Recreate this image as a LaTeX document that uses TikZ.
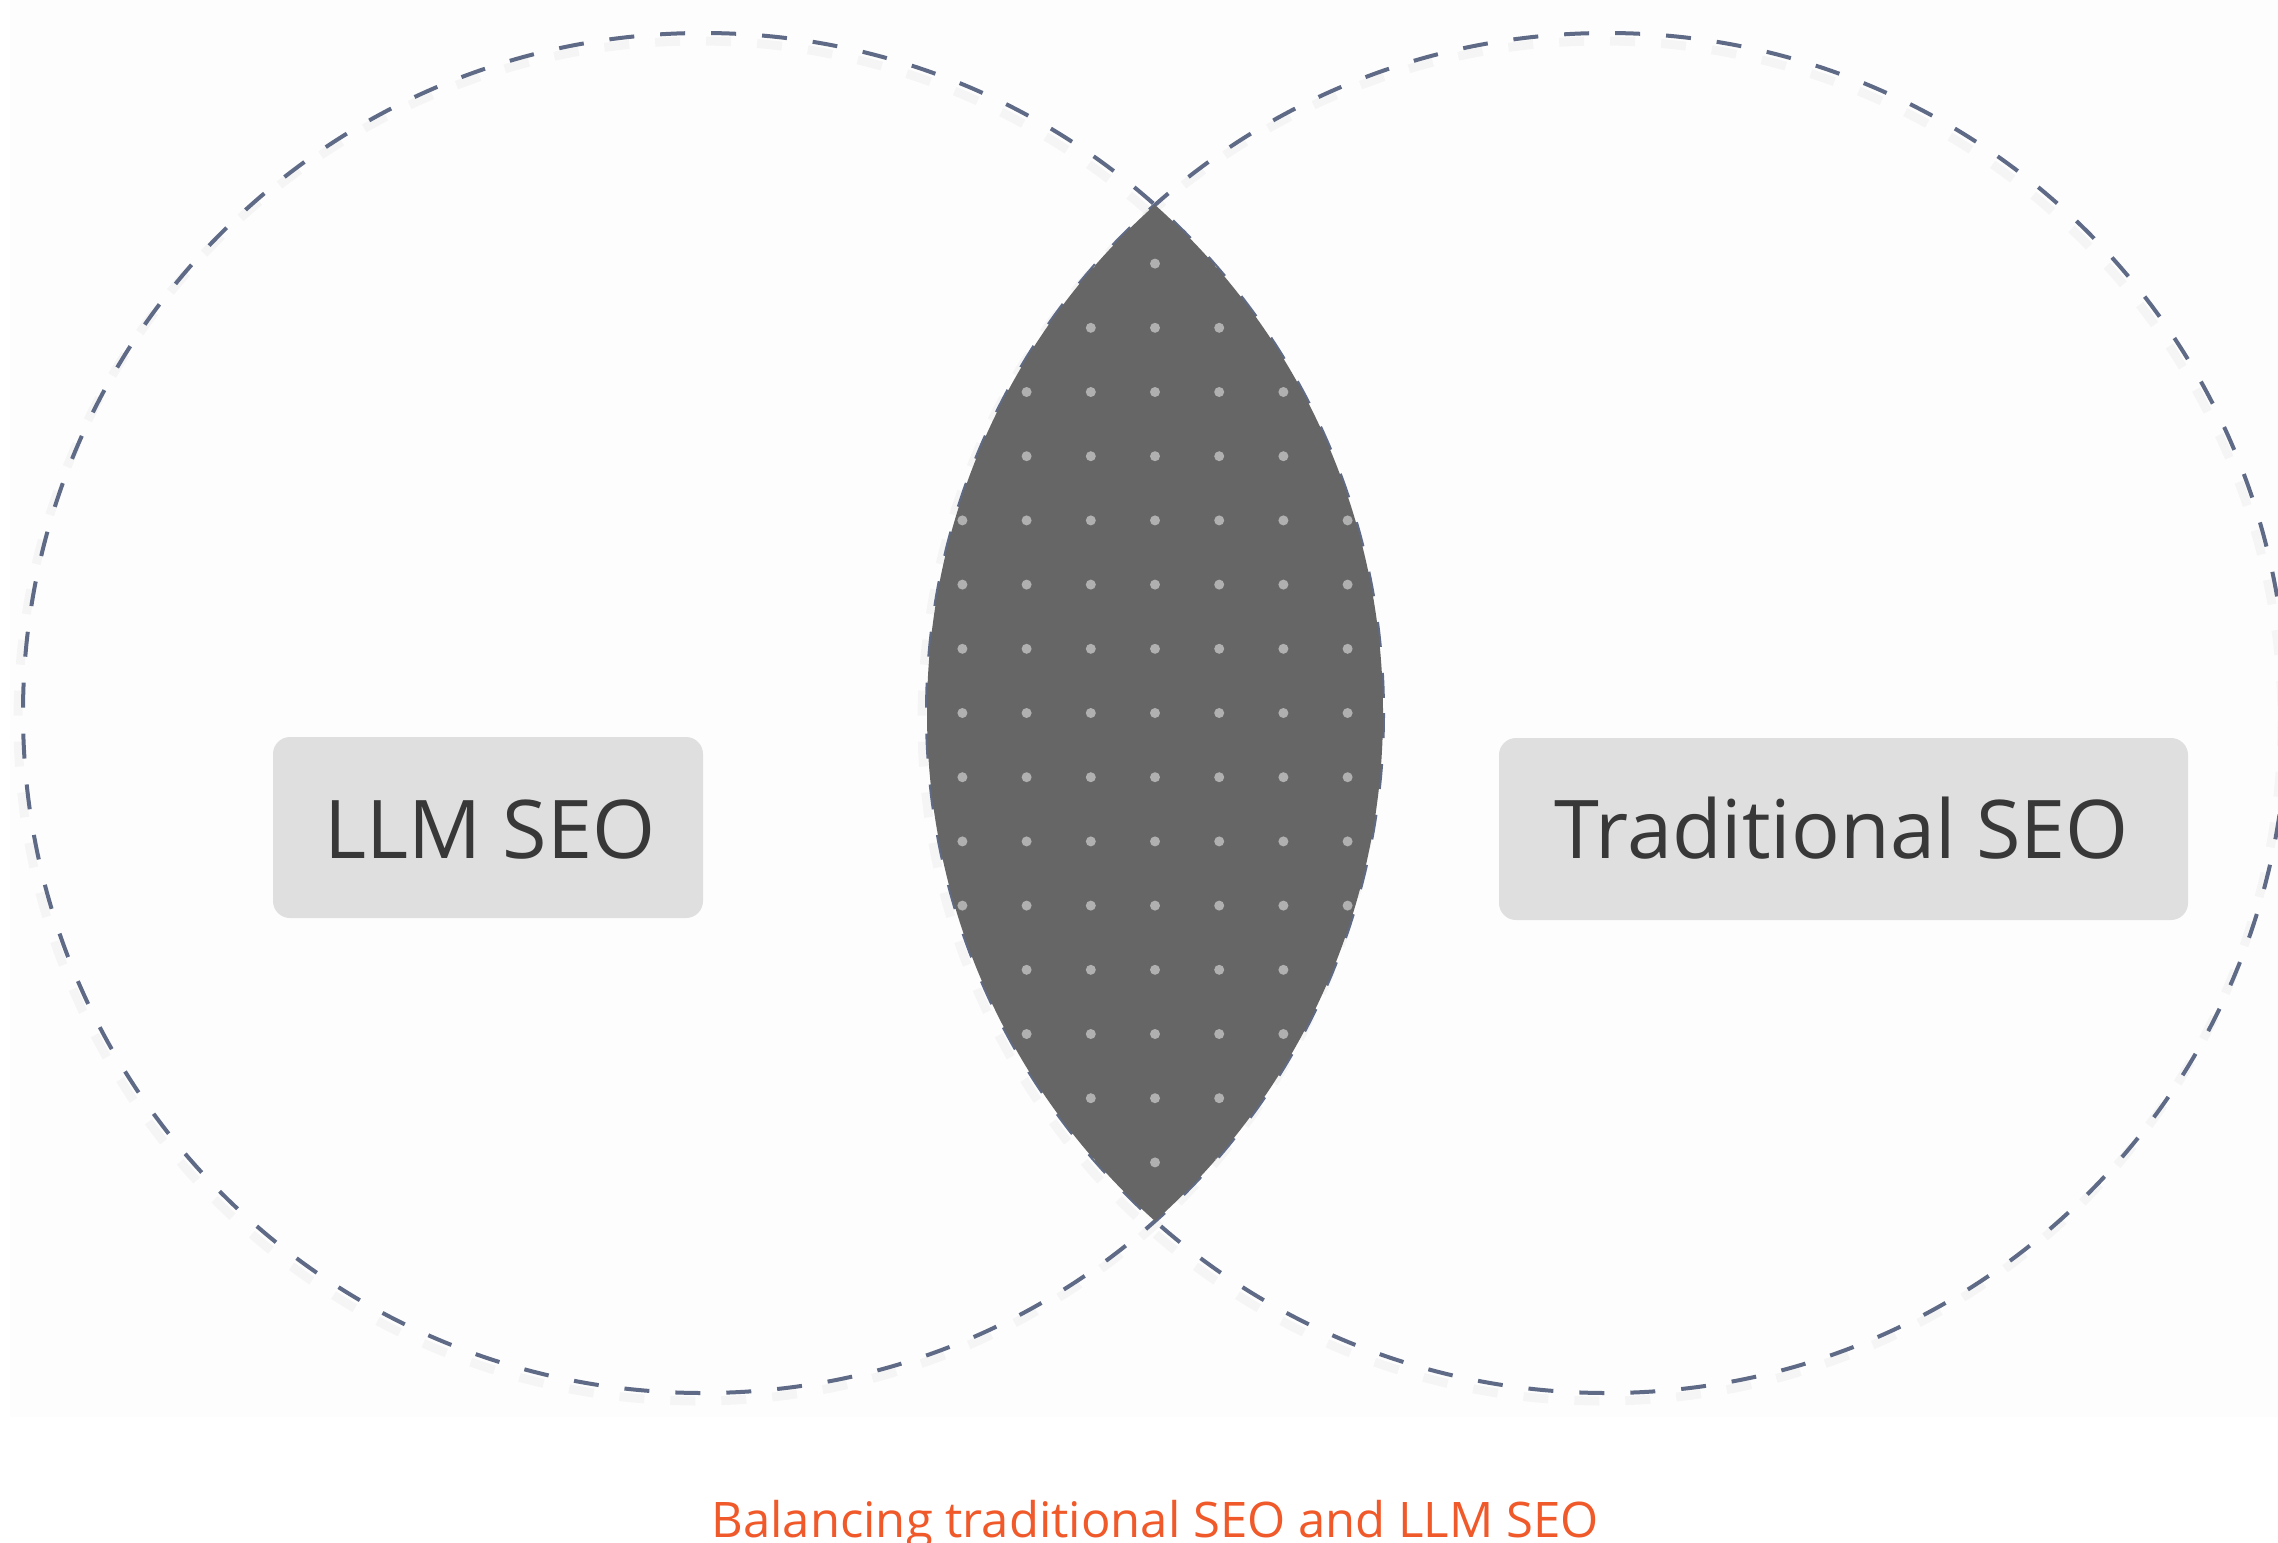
\documentclass[tikz,border=0pt]{standalone}
\usepackage{fontspec}
\setmainfont{Open Sans}
\definecolor{ringc}{HTML}{5F6B86}
\definecolor{lensc}{HTML}{666666}
\definecolor{dotc}{HTML}{B0B0B0}
\definecolor{boxc}{HTML}{DFDFDF}
\definecolor{labc}{HTML}{383838}
\definecolor{capc}{HTML}{F0592A}
\definecolor{bgc}{HTML}{FDFDFD}
\begin{document}
\begin{tikzpicture}[x=1pt,y=-1pt,
  ring/.style={draw=ringc, line width=4pt, dash pattern=on 25pt off 26pt},
  ringshadow/.style={draw=black, opacity=0.03, line width=9pt, dash pattern=on 25pt off 26pt},
  labelbox/.style={fill=boxc, rounded corners=17pt, inner sep=0pt},
  labeltext/.style={anchor=base, text=labc, font=\fontsize{81}{97}\selectfont, inner sep=0pt},
  captext/.style={anchor=base, text=capc, font=\fontsize{49}{59}\selectfont, inner sep=0pt}]
\useasboundingbox (0,0) rectangle (2278,1542);
\fill[bgc] (10,0) rectangle (2278,1417);
% circle shadows
\draw[ringshadow] (698,721) circle[radius=680];
\draw[ringshadow] (1602,721) circle[radius=680];
% circles
\draw[ring] (703,713) circle[radius=680];
\draw[ring] (1607,713) circle[radius=680];
% lens
\begin{scope}
  \clip (703,713) circle[radius=680];
  \clip (1607,713) circle[radius=680];
  \fill[lensc] (1607,713) circle[radius=680];
  \foreach \i in {-3,...,3}
    \foreach \j in {-7,...,7}
      \fill[dotc] ({1155+64.2*\i},{713+64.2*\j}) circle[radius=5];
\end{scope}
% label boxes
\node[labelbox, minimum width=430pt, minimum height=181pt] (llmbox) at (488,827.5) {};
\node[labeltext] (llm) at (490,858) {LLM SEO};
\node[labelbox, minimum width=689pt, minimum height=182pt] (tradbox) at (1843.5,829) {};
\node[labeltext] (trad) at (1842,858) {Traditional SEO};
% caption
\node[captext] (cap) at (1155,1537) {Balancing traditional SEO and LLM SEO};
\end{tikzpicture}
\end{document}
